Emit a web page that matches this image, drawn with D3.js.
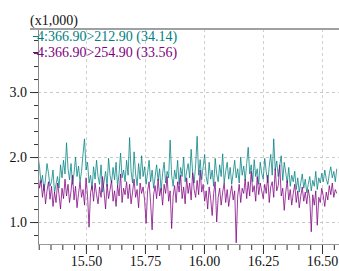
<!DOCTYPE html>
<html>
<head>
<meta charset="utf-8">
<script src="https://cdn.jsdelivr.net/npm/d3@7"></script>
<style>
  body { margin: 0; background: #fff; }
  text { font-family: "Liberation Serif", "DejaVu Serif", serif; }
</style>
</head>
<body>
<div id="chart"></div>
<script>
// scan times: first scan and spacing (min)
var scanStart = 15.297;
var scanStep = 0.00636;

var seriesNames = ["4:366.90>212.90 (34.14)", "4:366.90>254.90 (33.56)"];
var seriesColors = ["#008080", "#800080"];

// intensity (x1,000)
var tealValues = [
  2.02, 1.85, 1.60, 1.72, 1.48, 1.66, 1.90, 1.75, 1.55, 1.62,
  1.80, 1.45, 1.58, 1.70, 1.52, 1.88, 1.68, 1.95, 1.74, 2.22,
  1.82, 1.65, 1.90, 1.58, 1.75, 2.00, 1.70, 1.86, 1.62, 1.78,
  2.05, 2.28, 1.80, 1.92, 1.60, 1.72, 1.50, 1.85, 1.66, 1.95,
  1.70, 1.58, 1.88, 1.46, 1.62, 1.78, 1.55, 1.98, 1.72, 1.60,
  1.84, 1.65, 1.92, 1.54, 1.75, 2.06, 1.68, 1.80, 1.62, 1.95,
  1.72, 2.30, 1.78, 1.60, 2.08, 1.74, 1.56, 1.90, 1.66, 2.02,
  1.70, 1.85, 1.58, 1.76, 1.95, 1.62, 1.80, 1.52, 1.70, 1.88,
  1.64, 1.82, 1.48, 1.75, 1.92, 1.60, 1.78, 1.68, 2.26, 1.72,
  1.55, 1.80, 1.66, 1.95, 1.58, 1.84, 1.70, 2.00, 1.62, 1.78,
  1.90, 1.68, 2.12, 1.76, 1.60, 1.88, 2.32, 1.72, 1.96, 1.65,
  1.85, 2.04, 1.70, 1.58, 1.92, 1.66, 1.80, 1.55, 1.98, 1.74,
  1.62, 1.88, 1.70, 2.05, 1.60, 1.78, 1.92, 1.66, 1.84, 1.58,
  1.76, 1.95, 1.68, 1.82, 1.60, 2.00, 1.72, 1.86, 1.64, 1.90,
  2.15, 1.74, 1.88, 1.62, 1.96, 1.70, 1.82, 1.58, 1.92, 1.75,
  1.66, 1.98, 1.78, 1.60, 1.86, 2.04, 1.72, 2.28, 1.80, 1.94,
  1.70, 1.88, 2.02, 1.64, 1.92, 1.76, 1.60, 1.84, 1.55, 1.72,
  1.62, 1.78, 1.50, 1.68, 1.46, 1.60, 1.74, 1.52, 1.66, 1.45,
  1.58, 1.70, 1.48, 1.64, 1.55, 1.78, 1.50, 1.68, 1.60, 1.75,
  1.62, 1.80, 1.66, 1.58, 1.74, 1.85, 1.68, 1.78, 1.62, 1.82
];
var purpleValues = [
  1.75, 1.52, 1.64, 1.38, 1.58, 1.28, 1.48, 1.62, 1.35, 1.55,
  1.24, 1.46, 1.30, 1.60, 1.42, 1.20, 1.52, 1.36, 1.66, 1.40,
  1.58, 1.30, 1.48, 1.72, 1.34, 1.55, 1.22, 1.44, 1.62, 1.38,
  1.50, 1.26, 1.68, 1.40, 0.92, 1.45, 1.56, 1.32, 1.60, 1.42,
  1.28, 1.54, 1.38, 1.70, 1.46, 1.20, 1.58, 1.36, 1.50, 1.64,
  1.32, 1.48, 1.24, 1.56, 1.40, 1.74, 1.30, 1.52, 1.42, 1.62,
  1.36, 1.58, 1.28, 1.46, 1.66, 1.38, 1.50, 1.22, 1.60, 1.44,
  1.54, 1.34, 0.98, 1.48, 1.62, 1.30, 0.88, 1.42, 1.56, 1.36,
  1.66, 1.40, 1.52, 1.26, 1.58, 1.44, 1.70, 1.32, 1.48, 0.90,
  1.40, 1.56, 1.30, 1.62, 1.46, 1.72, 1.36, 1.54, 1.28, 1.68,
  1.44, 1.60, 1.34, 1.76, 1.50, 1.38, 1.64, 1.42, 1.80, 1.46,
  1.58, 1.32, 1.48, 1.20, 1.54, 1.36, 1.10, 1.44, 1.62, 1.00,
  1.38, 1.52, 1.26, 1.46, 1.60, 1.30, 1.50, 1.24, 1.42, 1.56,
  1.34, 1.48, 0.68, 1.40, 1.58, 1.30, 1.52, 1.44, 1.66, 1.36,
  1.62, 1.40, 1.78, 1.46, 1.56, 1.32, 1.70, 1.42, 1.60, 1.48,
  1.36, 1.58, 1.44, 1.72, 1.30, 1.54, 1.62, 1.38, 1.82, 1.48,
  1.56, 1.88, 1.40, 1.52, 1.18, 1.46, 1.64, 1.34, 1.50, 1.26,
  1.44, 1.58, 1.30, 1.48, 1.22, 1.40, 1.54, 1.32, 1.46, 1.28,
  1.50, 1.36, 0.85, 1.42, 1.26, 1.48, 0.95, 1.38, 1.30, 1.52,
  1.40, 1.24, 1.46, 1.34, 1.56, 1.42, 1.60, 1.38, 1.50, 1.44
];

var xTicks = [15.50, 15.75, 16.00, 16.25, 16.50];
var yTicks = [1.0, 2.0, 3.0];

var width = 339, height = 271;
var plotLeft = 38, plotTop = 29, plotBottom = 244, plotRight = 339;

var svg = d3.select("#chart").append("svg")
  .attr("width", width)
  .attr("height", height);

var x = d3.scaleLinear().domain([15.297, 16.572]).range([plotLeft, plotRight]);
var y = d3.scaleLinear().domain([0.662, 3.97]).range([plotBottom, plotTop]);

// grid
svg.selectAll(".vgrid")
  .data(xTicks)
  .enter()
  .append("line")
    .attr("x1", function(d) { return Math.round(x(d)) + 0.5; })
    .attr("x2", function(d) { return Math.round(x(d)) + 0.5; })
    .attr("y1", plotTop)
    .attr("y2", plotBottom + 12)
    .style("stroke", "#d0d0d0")
    .style("stroke-dasharray", "3,3");

svg.selectAll(".hgrid")
  .data(yTicks)
  .enter()
  .append("line")
    .attr("x1", plotLeft)
    .attr("x2", plotRight)
    .attr("y1", function(d) { return Math.round(y(d)) + 0.5; })
    .attr("y2", function(d) { return Math.round(y(d)) + 0.5; })
    .style("stroke", "#c8c8c8")
    .style("stroke-dasharray", "3,3");

// traces
var line = d3.line()
  .x(function(d, i) { return x(scanStart + i * scanStep); })
  .y(function(d) { return y(d); });

var plot = svg.append("g");
plot.append("clipPath").attr("id", "clip")
  .append("rect").attr("x", plotLeft).attr("y", plotTop)
  .attr("width", plotRight - plotLeft).attr("height", plotBottom - plotTop + 8);

[tealValues, purpleValues].forEach(function(vals, k) {
  plot.append("path")
    .attr("d", line(vals))
    .attr("clip-path", "url(#clip)")
    .style("fill", "none")
    .style("stroke", seriesColors[k])
    .style("stroke-width", 0.9)
    .style("opacity", 0.85);
});

// axes
var yAxis = d3.axisLeft(y).tickValues(yTicks).tickSize(8).tickFormat(d3.format(".1f"));
var yMinor = d3.axisLeft(y).tickValues(d3.range(0.8, 3.95, 0.2)).tickSize(4).tickFormat("");
var xAxis = d3.axisBottom(x).tickValues(xTicks).tickSize(10).tickFormat(d3.format(".2f"));
var xMinor = d3.axisBottom(x).tickValues(d3.range(15.30, 16.57, 0.05)).tickSize(6).tickFormat("");

svg.append("g").attr("transform", "translate(" + plotLeft + ",0)").call(yMinor);
svg.append("g").attr("class", "yaxis").attr("transform", "translate(" + plotLeft + ",0)").call(yAxis);
svg.append("g").attr("transform", "translate(0," + plotBottom + ")").call(xMinor);
svg.append("g").attr("class", "xaxis").attr("transform", "translate(0," + plotBottom + ")").call(xAxis);

svg.selectAll(".domain").remove();
svg.selectAll(".tick line").style("stroke", "#333");
svg.selectAll(".tick text")
  .style("font-size", "14px")
  .style("font-family", "Liberation Serif, serif")
  .style("fill", "#111");
svg.selectAll(".xaxis .tick text").attr("y", 12).attr("dy", "0.71em");

// frame lines
svg.append("line").attr("x1", plotLeft + 0.5).attr("x2", plotLeft + 0.5).attr("y1", plotTop).attr("y2", plotBottom + 1)
  .style("stroke", "#888");
svg.append("line").attr("x1", plotLeft).attr("x2", plotRight).attr("y1", plotBottom + 0.5).attr("y2", plotBottom + 0.5)
  .style("stroke", "#999");
svg.append("line").attr("x1", 30).attr("x2", plotRight).attr("y1", plotTop).attr("y2", plotTop)
  .style("stroke", "#a0a0a0").style("stroke-width", 2);

// legend
svg.append("text").attr("x", 30).attr("y", 25).text("(x1,000)")
  .style("font-size", "14px").style("fill", "#111");

seriesNames.forEach(function(name, k) {
  var yy = 41 + k * 16;
  svg.append("line").attr("x1", 33).attr("x2", 38).attr("y1", yy - 4.5).attr("y2", yy - 4.5)
    .style("stroke", seriesColors[k]);
  svg.append("text").attr("x", 37).attr("y", yy).text(name)
    .style("font-size", "14px").style("fill", seriesColors[k]);
});
</script>
</body>
</html>
